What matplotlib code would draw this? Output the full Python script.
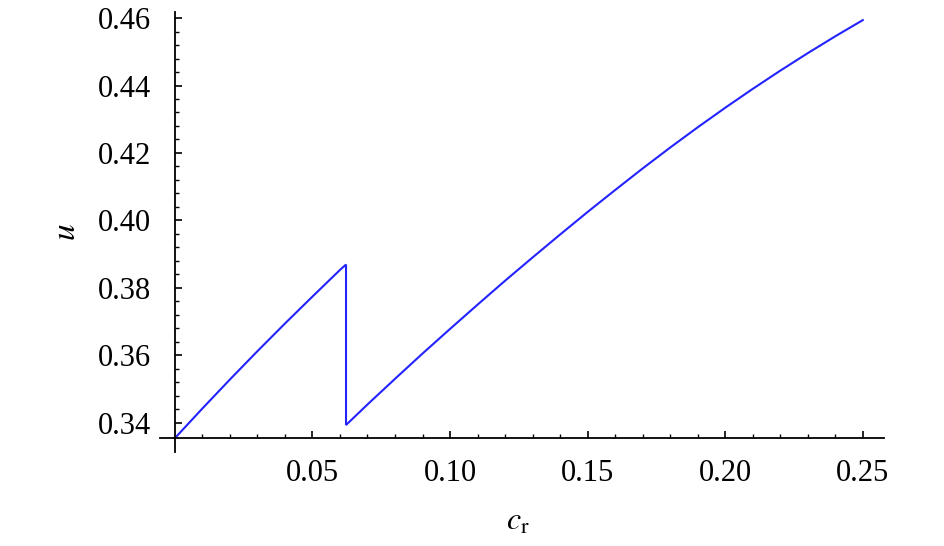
import numpy as np
import matplotlib.pyplot as plt
from matplotlib.ticker import FixedLocator

plt.rcParams['font.family'] = 'Liberation Serif'
plt.rcParams['mathtext.fontset'] = 'stix'
plt.rcParams['font.size'] = 22

# branch before the jump
cr_left = [0.0, 0.01, 0.02, 0.03, 0.04, 0.05, 0.06, 0.0622]
u_left = [0.3354, 0.3442, 0.3528, 0.3612, 0.3694, 0.3774, 0.3853, 0.3869]
# branch after the jump
cr_right = [0.0622, 0.07, 0.08, 0.09, 0.10, 0.11, 0.12, 0.13, 0.14, 0.15,
            0.16, 0.17, 0.18, 0.19, 0.20, 0.21, 0.22, 0.23, 0.24, 0.25]
u_right = [0.3393, 0.3454, 0.3530, 0.3605, 0.3678, 0.3750, 0.3821, 0.3890, 0.3958, 0.4025,
           0.4090, 0.4154, 0.4216, 0.4276, 0.4334, 0.4390, 0.4444, 0.4496, 0.4546, 0.4594]

x_ticks = [0.05, 0.10, 0.15, 0.20, 0.25]
x_labels = ["0.05", "0.10", "0.15", "0.20", "0.25"]
y_ticks = [0.34, 0.36, 0.38, 0.40, 0.42, 0.44, 0.46]
y_labels = ["0.34", "0.36", "0.38", "0.40", "0.42", "0.44", "0.46"]

fig = plt.figure(figsize=(9.45, 5.46), dpi=100)
ax = fig.add_axes([160/945, 1-452/546, (884-160)/945, (452-12)/546])

cr = cr_left + cr_right
u = u_left + u_right
ax.plot(cr, u, color="#2323ff", lw=1.5, solid_joinstyle="miter")

ax.set_xlim(-0.0054, 0.2577)
ax.set_ylim(0.3313, 0.4618)

ax.spines['top'].set_visible(False)
ax.spines['right'].set_visible(False)
ax.spines['left'].set_position(('data', 0.0))
ax.spines['bottom'].set_position(('data', 0.3354))
for s in ['left', 'bottom']:
    ax.spines[s].set_linewidth(1.3)

ax.xaxis.set_major_locator(FixedLocator(x_ticks))
ax.set_xticklabels(x_labels)
ax.yaxis.set_major_locator(FixedLocator(y_ticks))
ax.set_yticklabels(y_labels)
ax.xaxis.set_minor_locator(FixedLocator(np.arange(0.01, 0.26, 0.01)))
ax.yaxis.set_minor_locator(FixedLocator(np.arange(0.344, 0.4605, 0.004)))

ax.tick_params(which='major', direction='in', length=5, width=1.2, colors='black')
ax.tick_params(which='minor', direction='in', length=3, width=1.0)
ax.tick_params(axis='x', which='major', pad=15)
ax.tick_params(axis='y', which='major', pad=17)

fig.text(67/945, 1-232/546, r'$u$', rotation=90, ha='center', va='center', fontsize=24)
fig.text(518/945, 1-522/546, r'$c_{\mathrm{r}}$', ha='center', va='center', fontsize=23)

fig.savefig("out.png", dpi=100)
